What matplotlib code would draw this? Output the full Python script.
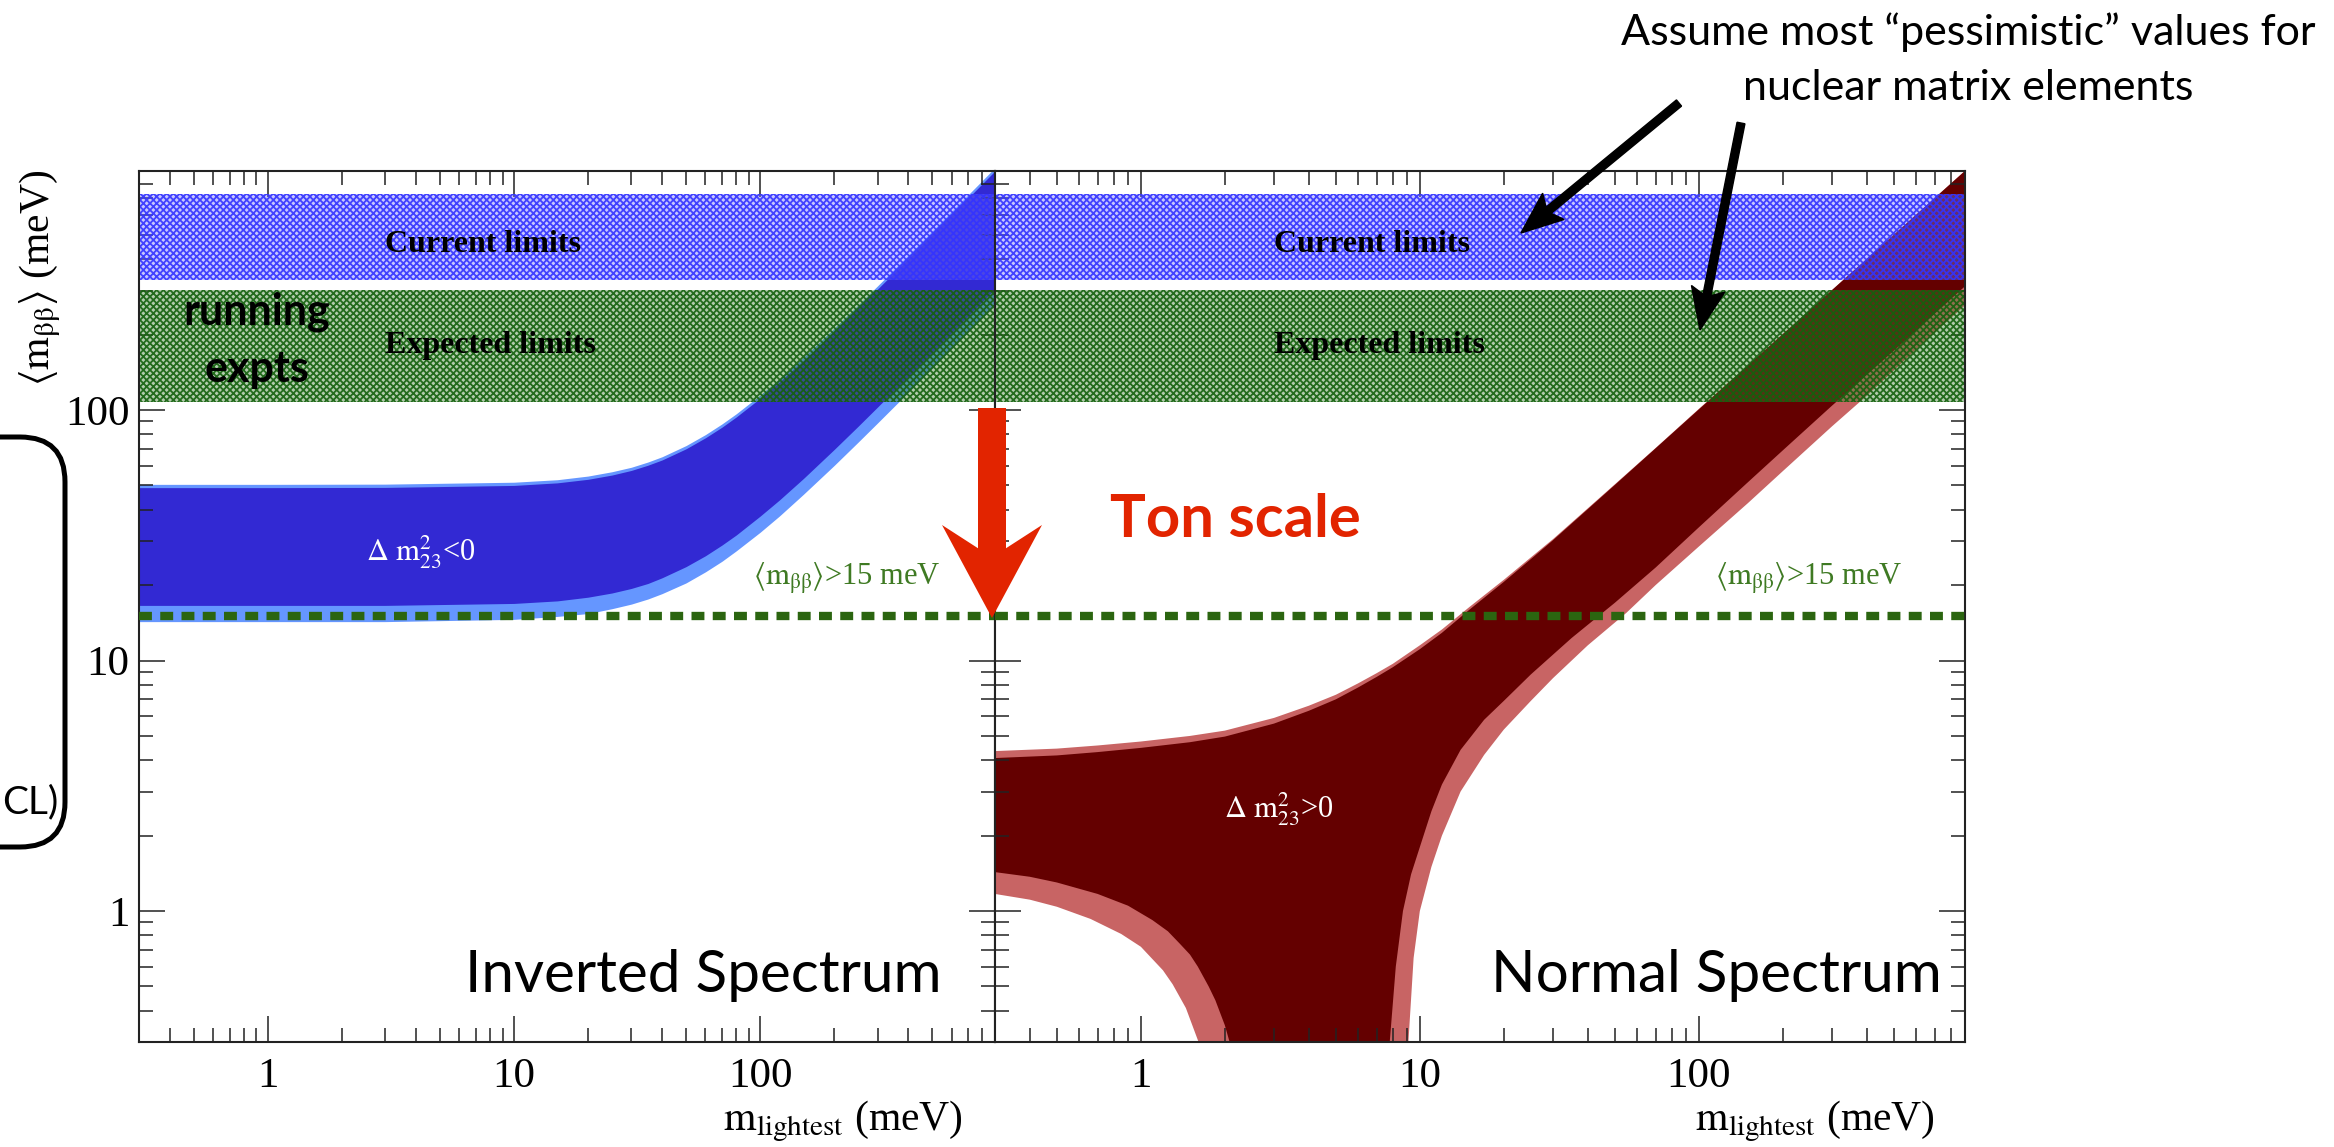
import numpy as np
import matplotlib
matplotlib.use("Agg")
import matplotlib.pyplot as plt
from matplotlib.patches import FancyArrow, FancyBboxPatch
from matplotlib.transforms import IdentityTransform
from matplotlib.ticker import LogLocator, NullFormatter

plt.rcParams['font.family'] = 'Liberation Serif'
plt.rcParams['mathtext.fontset'] = 'stix'
plt.rcParams['hatch.linewidth'] = 1.3

# limit bands and threshold (meV)
current_limits = (330, 726)
expected_limits = (107.6, 301)
ton_scale_limit = 15

major_ticks = [1, 10, 100]
major_labels = ['1', '10', '100']

# inverted spectrum band (m_lightest vs <m_bb>)
ih_x = [0.3, 1, 3, 10, 15, 20, 25, 30, 35, 40, 50, 60, 70, 80, 100, 120, 150, 200, 250,
        300, 400, 500, 700, 900]
ih_upper_outer = [50.5, 50.5, 50.6, 51.5, 52.7, 54.5, 56.7, 59.1, 62.0, 65.1, 72.1, 79.8, 88.0,
                  96.6, 114.7, 133.5, 162.5, 212.1, 262.4, 313.1, 415.1, 517.5, 722.8, 928.3]
ih_upper_inner = [49.0, 49.0, 49.1, 50.0, 51.2, 52.9, 55.0, 57.4, 60.2, 63.2, 70.0, 77.5, 85.4,
                  93.8, 111.4, 129.6, 157.8, 205.9, 254.8, 304.0, 403.0, 502.4, 701.7, 901.3]
ih_lower_inner = [16.6, 16.6, 16.6, 16.9, 17.3, 17.9, 18.6, 19.4, 20.3, 21.4, 23.7, 26.2, 28.9,
                  31.7, 37.7, 43.8, 53.3, 69.6, 86.1, 102.8, 136.2, 169.8, 237.2, 304.6]
ih_lower_outer = [14.3, 14.3, 14.3, 14.6, 15.0, 15.4, 16.1, 16.8, 17.6, 18.5, 20.4, 22.6, 24.9,
                  27.4, 32.5, 37.8, 46.1, 60.1, 74.4, 88.8, 117.7, 146.7, 204.9, 263.2]

# normal spectrum band: upper edge
nh_x_up = [0.3, 0.5, 0.7, 1, 1.5, 2, 3, 4, 5, 6, 7, 8, 10, 12, 15, 20, 25, 30, 40, 50, 70,
           100, 150, 200, 300, 500, 900]
nh_up_outer = [4.35, 4.45, 4.58, 4.75, 5.0, 5.25, 5.9, 6.6, 7.3, 8.1, 8.9, 9.7, 11.5, 13.3,
               16.3, 21.0, 25.8, 30.5, 40.5, 50.5, 70.5, 101, 151, 201, 301, 501, 901]
nh_up_inner = [4.08, 4.18, 4.31, 4.48, 4.72, 4.97, 5.6, 6.3, 7.0, 7.8, 8.6, 9.4, 11.1, 12.9,
               15.9, 20.6, 25.4, 30.2, 40.2, 50.2, 70.3, 100.5, 150.7, 200.8, 300.8, 500.8, 900.8]

# lower edge, large-m branch (from the top down)
nh_x_right_outer = [900, 600, 400, 300, 200, 150, 100, 70, 55, 40, 30, 25, 20, 17, 14, 12, 11,
                    10, 9.5, 9.1, 8.8]
nh_right_outer = [262, 174, 114, 86, 57, 42.5, 28.5, 20, 15.5, 11.5, 8.5, 6.9, 5.3, 4.2, 3.0,
                  2.0, 1.5, 1.0, 0.65, 0.3, 0.05]
nh_x_right_inner = [900, 600, 400, 300, 200, 150, 100, 70, 50, 35, 25, 20, 17, 14, 12, 11, 10,
                    9.3, 8.7, 8.2, 7.8, 7.5]
nh_right_inner = [312, 207, 138, 104, 69, 51.5, 34, 23.5, 17, 12.3, 8.8, 6.9, 5.8, 4.4, 3.2,
                  2.5, 1.8, 1.4, 1.0, 0.6, 0.3, 0.05]

# lower edge, small-m branch
nh_x_left_outer = [0.3, 0.4, 0.5, 0.66, 0.85, 1.0, 1.09, 1.2, 1.3, 1.45, 1.61, 1.7, 1.8, 1.9, 2.0]
nh_left_outer = [1.17, 1.11, 1.04, 0.93, 0.81, 0.72, 0.65, 0.58, 0.51, 0.41, 0.30, 0.24, 0.18,
                 0.11, 0.05]
nh_x_left_inner = [0.3, 0.4, 0.5, 0.7, 0.9, 1.1, 1.25, 1.38, 1.5, 1.6, 1.75, 1.85, 2.0, 2.08,
                   2.2, 2.3, 2.5]
nh_left_inner = [1.43, 1.37, 1.30, 1.17, 1.05, 0.92, 0.83, 0.74, 0.67, 0.60, 0.50, 0.44, 0.35,
                 0.30, 0.22, 0.16, 0.05]

W, H = 2334, 1147
fig = plt.figure(figsize=(W / 100, H / 100), dpi=100)

ax_inv = fig.add_axes([139 / W, 105 / H, 856 / W, 871 / H])
ax_nor = fig.add_axes([995 / W, 105 / H, 970 / W, 871 / H])

green = '#2b6510'
mbb = r'$\langle\mathrm{m}_{\mathrm{\beta\beta}}\rangle$'
for ax in (ax_inv, ax_nor):
    ax.set_xscale('log')
    ax.set_yscale('log')
    ax.set_xlim(0.3, 900)
    ax.set_ylim(0.3, 900)
    ax.axhspan(*current_limits, facecolor=(0.45, 0.45, 1.0, 0.4),
               edgecolor=(0.2, 0.2, 1.0, 0.9), hatch='xxxxx', lw=0, zorder=2)
    ax.axhspan(*expected_limits, facecolor=(0.25, 0.5, 0.2, 0.4),
               edgecolor=(0.08, 0.38, 0.05, 0.9), hatch='xxxxx', lw=0, zorder=2)
    ax.axhline(ton_scale_limit, color=green, lw=6, dashes=(1.55, 1.0), zorder=3)

    ax.set_xticks(major_ticks, major_labels)
    ax.set_yticks(major_ticks, major_labels)
    for a in (ax.xaxis, ax.yaxis):
        a.set_minor_locator(LogLocator(base=10, subs=np.arange(2, 10), numticks=30))
        a.set_minor_formatter(NullFormatter())
    ax.tick_params(which='both', direction='in', top=True, right=True,
                   labelsize=31, width=1.1, color='#222222')
    ax.tick_params(which='major', length=18.5)
    ax.tick_params(which='minor', length=10)
    ax.tick_params(axis='x', pad=11)
    ax.tick_params(axis='y', pad=7)
    for s in ax.spines.values():
        s.set_linewidth(1.5)
        s.set_color('#222222')
    ax.text(3.0, 426, 'Current limits', fontweight='bold', fontsize=23, zorder=4)
    ax.text(3.0, 169, 'Expected limits', fontweight='bold', fontsize=23, zorder=4)
    ax.text(0.936, 20, mbb + '>15 meV', color='#3f7a23', fontsize=22,
            ha='right', va='baseline', transform=ax.get_yaxis_transform(), zorder=4)

ax_nor.tick_params(labelleft=False)

# inverted spectrum
ax_inv.fill_between(ih_x, ih_lower_outer, ih_upper_outer, color='#6596ff', lw=0, zorder=1)
ax_inv.fill_between(ih_x, ih_lower_inner, ih_upper_inner, color='#3229d3', lw=0, zorder=1)

# normal spectrum
poly_x = nh_x_up + nh_x_right_outer + nh_x_left_outer[::-1]
poly_y = nh_up_outer + nh_right_outer + nh_left_outer[::-1]
ax_nor.fill(poly_x, poly_y, color='#c86464', lw=0, zorder=1)
poly_x = nh_x_up + nh_x_right_inner + nh_x_left_inner[::-1]
poly_y = nh_up_inner + nh_right_inner + nh_left_inner[::-1]
ax_nor.fill(poly_x, poly_y, color='#640000', lw=0, zorder=1)

ax_inv.text(2.51, 25.0, r'$\Delta\ \mathrm{m}^{2}_{23}$<0', color='white', fontsize=22,
            va='baseline', zorder=4)
ax_nor.text(1.98, 2.37, r'$\Delta\ \mathrm{m}^{2}_{23}$>0', color='white', fontsize=22,
            va='baseline', zorder=4)

ax_inv.text(0.937, 0.0574, 'Inverted Spectrum', family='Lato', fontsize=42,
            ha='right', va='baseline', transform=ax_inv.transAxes, zorder=5)
ax_nor.text(0.976, 0.0574, 'Normal Spectrum', family='Lato', fontsize=42,
            ha='right', va='baseline', transform=ax_nor.transAxes, zorder=5)

ax_nor.text(0.1186, 0.580, 'Ton scale', family='Lato', fontweight='bold', fontsize=43,
            color='#e22400', va='baseline', transform=ax_nor.transAxes, zorder=5)

# axis labels
fig.text(40 / W, 1 - 170 / H, mbb + ' (meV)', rotation=90,
         ha='center', va='top', fontsize=30)
for xr in (963, 1935):
    fig.text(xr / W, 17 / H, r'$\mathrm{m}_{\mathrm{lightest}}$ (meV)', ha='right',
             va='baseline', fontsize=30)

# overlay annotations
fig.text(257 / W, 1 - 324 / H, 'running', family='Lato', fontweight='bold', fontsize=31,
         ha='center', va='baseline')
fig.text(257 / W, 1 - 382 / H, 'expts', family='Lato', fontweight='bold', fontsize=31,
         ha='center', va='baseline')

fig.text(1968 / W, 1 - 45 / H, 'Assume most \u201cpessimistic\u201d values for', family='Lato',
         fontsize=31, ha='center', va='baseline')
fig.text(1968 / W, 1 - 100 / H, 'nuclear matrix elements', family='Lato',
         fontsize=31, ha='center', va='baseline')

px = IdentityTransform()
fig.add_artist(FancyArrow(1679, H - 103, -158, -130, width=8, head_width=34, head_length=42,
                          overhang=0.15, length_includes_head=True, color='black', transform=px))
fig.add_artist(FancyArrow(1741, H - 123, -41, -207, width=8, head_width=34, head_length=42,
                          overhang=0.15, length_includes_head=True, color='black', transform=px))
fig.add_artist(FancyArrow(992, H - 408, 0, -210, width=28, head_width=100, head_length=93,
                          overhang=0.25, length_includes_head=True, color='#e22400', lw=0,
                          transform=px))

fig.add_artist(FancyBboxPatch((-300, 300), 365, 410, boxstyle='round,pad=0,rounding_size=45',
                              fill=False, lw=3.6, ec='black', transform=px, clip_on=False))
fig.text(2 / W, 1 - 813 / H, 'CL)', family='Lato', fontsize=28, ha='left', va='baseline')

fig.savefig('out.png', dpi=100)
